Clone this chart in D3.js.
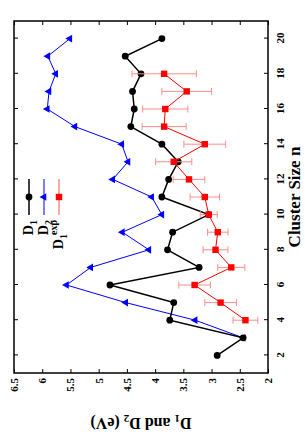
<!DOCTYPE html>
<html>
<head>
<meta charset="utf-8">
<script src="https://cdn.jsdelivr.net/npm/d3@7"></script>
<style>
  body { margin: 0; background: #fff; }
  svg { display: block; }
  text { font-family: "Liberation Serif", "DejaVu Serif", serif; }
</style>
</head>
<body>
<div id="canva"></div>
<script>
// cluster sizes
const sizes = [2, 3, 4, 5, 6, 7, 8, 9, 10, 11, 12, 13, 14, 15, 16, 17, 18, 19, 20];
// D1 (black circles)
const d1 = [2.90, 2.44, 3.74, 3.67, 4.80, 3.22, 3.78, 3.69, 3.05, 3.88, 3.76, 3.59, 3.88, 4.43, 4.37, 4.40, 4.25, 4.53, 3.88];
// D2 (blue triangles)
const d2 = [null, 2.44, 3.29, 4.52, 5.57, 5.14, 4.11, 4.58, 3.88, 4.06, 4.75, 4.48, 4.59, 5.42, 5.91, 5.88, 5.76, 5.90, 5.51];
// experimental D1 with error
const expSizes = [4, 5, 6, 7, 8, 9, 10, 11, 12, 13, 14, 15, 16, 17, 18];
const expD1 = [2.40, 2.84, 3.30, 2.65, 2.93, 2.89, 3.05, 3.12, 3.40, 3.67, 3.12, 3.84, 3.82, 3.44, 3.84];
const expErr = [0.22, 0.28, 0.28, 0.24, 0.22, 0.18, 0.15, 0.26, 0.28, 0.32, 0.37, 0.39, 0.40, 0.44, 0.57];

const nTicks = [2, 4, 6, 8, 10, 12, 14, 16, 18, 20];
const eTicks = [2, 2.5, 3, 3.5, 4, 4.5, 5, 5.5, 6, 6.5];

const W = 305, H = 436;
// chart is drawn upright then turned a quarter turn counter-clockwise
const cw = H, ch = W;

const svg = d3.select('#canva').append('svg')
    .attr('width', W)
    .attr('height', H);

const g = svg.append('g')
    .attr('transform', `translate(0,${H}) rotate(-90)`);

const x = d3.scaleLinear().domain([1, 21]).range([63, 415]);
const y = d3.scaleLinear().domain([2, 6.5]).range([268, 14]);

// axes
const bottom = g.append('g')
    .attr('transform', `translate(0,${y(2)})`)
    .call(d3.axisBottom(x).tickValues(nTicks).tickSize(-4).tickPadding(8));
const left = g.append('g')
    .attr('transform', `translate(${x(1)},0)`)
    .call(d3.axisLeft(y).tickValues(eTicks).tickSize(-4).tickPadding(5).tickFormat(d3.format('~g')));
g.append('g')
    .attr('transform', `translate(0,${y(6.5)})`)
    .call(d3.axisTop(x).tickValues(nTicks).tickSize(-4).tickFormat(''));
g.append('g')
    .attr('transform', `translate(${x(21)},0)`)
    .call(d3.axisRight(y).tickValues(eTicks).tickSize(-4).tickFormat(''));

g.selectAll('.domain').remove();
g.selectAll('.tick line').attr('stroke', '#000').attr('stroke-width', 1);
g.selectAll('.tick text')
    .attr('font-family', '"Liberation Serif", serif')
    .attr('font-size', 11)
    .attr('font-weight', 'bold')
    .attr('fill', '#000');

g.append('rect')
    .attr('x', x(1))
    .attr('y', y(6.5))
    .attr('width', x(21) - x(1))
    .attr('height', y(2) - y(6.5))
    .attr('fill', 'none')
    .attr('stroke', '#000')
    .attr('stroke-width', 1.5);

// axis labels
g.append('text')
    .attr('x', (x(1) + x(21)) / 2)
    .attr('y', 300)
    .attr('text-anchor', 'middle')
    .attr('font-size', 17)
    .attr('font-weight', 'bold')
    .text('Cluster Size n');

const ylab = g.append('text')
    .attr('transform', `translate(14,${(y(2) + y(6.5)) / 2}) rotate(-90)`)
    .attr('text-anchor', 'middle')
    .attr('dominant-baseline', 'middle')
    .attr('font-size', 16)
    .attr('font-weight', 'bold');
ylab.append('tspan').text('D');
ylab.append('tspan').attr('dy', 4).attr('font-size', 11).text('1');
ylab.append('tspan').attr('dy', -4).text(' and D');
ylab.append('tspan').attr('dy', 4).attr('font-size', 11).text('2');
ylab.append('tspan').attr('dy', -4).text(' (eV)');

// D2 series
const d2pts = sizes.map((n, i) => ({ n, v: d2[i] })).filter(d => d.v !== null);
const line = d3.line().x(d => x(d.n)).y(d => y(d.v));

g.append('path')
    .datum(d2pts)
    .attr('d', line)
    .attr('fill', 'none')
    .attr('stroke', '#0000ff')
    .attr('stroke-width', 1);

const tri = d3.symbol().type(d3.symbolTriangle).size(26);
g.selectAll('.tri')
    .data(d2pts)
    .enter()
    .append('path')
    .attr('class', 'tri')
    .attr('d', tri)
    .attr('transform', d => `translate(${x(d.n)},${y(d.v)})`)
    .attr('fill', '#0000ff');

// D1 series
const d1pts = sizes.map((n, i) => ({ n, v: d1[i] }));
g.append('path')
    .datum(d1pts)
    .attr('d', line)
    .attr('fill', 'none')
    .attr('stroke', '#000')
    .attr('stroke-width', 1.5);

g.selectAll('.dot')
    .data(d1pts)
    .enter()
    .append('circle')
    .attr('class', 'dot')
    .attr('cx', d => x(d.n))
    .attr('cy', d => y(d.v))
    .attr('r', 3.4)
    .attr('fill', '#000');

// experimental series with error bars
const exPts = expSizes.map((n, i) => ({ n, v: expD1[i], e: expErr[i] }));
const errColor = '#ff8c8c';

const bars = g.selectAll('.err')
    .data(exPts)
    .enter()
    .append('g')
    .attr('class', 'err')
    .attr('stroke', errColor)
    .attr('stroke-width', 1);
bars.append('line')
    .attr('x1', d => x(d.n)).attr('x2', d => x(d.n))
    .attr('y1', d => y(d.v - d.e)).attr('y2', d => y(d.v + d.e));
bars.append('line')
    .attr('x1', d => x(d.n) - 3.5).attr('x2', d => x(d.n) + 3.5)
    .attr('y1', d => y(d.v - d.e)).attr('y2', d => y(d.v - d.e));
bars.append('line')
    .attr('x1', d => x(d.n) - 3.5).attr('x2', d => x(d.n) + 3.5)
    .attr('y1', d => y(d.v + d.e)).attr('y2', d => y(d.v + d.e));

g.append('path')
    .datum(exPts)
    .attr('d', line)
    .attr('fill', 'none')
    .attr('stroke', '#ff0000')
    .attr('stroke-width', 1);

g.selectAll('.sq')
    .data(exPts)
    .enter()
    .append('rect')
    .attr('class', 'sq')
    .attr('x', d => x(d.n) - 3.2)
    .attr('y', d => y(d.v) - 3.2)
    .attr('width', 6.4)
    .attr('height', 6.4)
    .attr('fill', '#ff0000');

// legend
const legend = g.append('g').attr('transform', 'translate(0,0)');
const legendRows = [
    { v: 29, color: '#000', width: 1.5 },
    { v: 44, color: '#0000ff', width: 1 },
    { v: 59, color: errColor, width: 1.5 }
];
legend.selectAll('line')
    .data(legendRows)
    .enter()
    .append('line')
    .attr('x1', 221).attr('x2', 257)
    .attr('y1', d => d.v).attr('y2', d => d.v)
    .attr('stroke', d => d.color)
    .attr('stroke-width', d => d.width);

legend.append('circle').attr('cx', 239).attr('cy', 29).attr('r', 3.4).attr('fill', '#000');
legend.append('path').attr('d', tri).attr('transform', 'translate(239,44)').attr('fill', '#0000ff');
legend.append('rect').attr('x', 239 - 3.2).attr('y', 59 - 3.2).attr('width', 6.4).attr('height', 6.4).attr('fill', '#ff0000');

function legendText(v, sub, sup) {
    const t = legend.append('text')
        .attr('x', 216)
        .attr('y', v + 4)
        .attr('text-anchor', 'end')
        .attr('font-size', 14)
        .attr('font-weight', 'bold');
    t.append('tspan').text('D');
    t.append('tspan').attr('dy', 4).attr('font-size', 10).text(sub);
    if (sup) {
        t.append('tspan').attr('dy', -10).attr('dx', -1).attr('font-size', 10).text(sup);
    }
}
legendText(29, '1');
legendText(44, '2');
legendText(59, '1', 'exp');
</script>
</body>
</html>
